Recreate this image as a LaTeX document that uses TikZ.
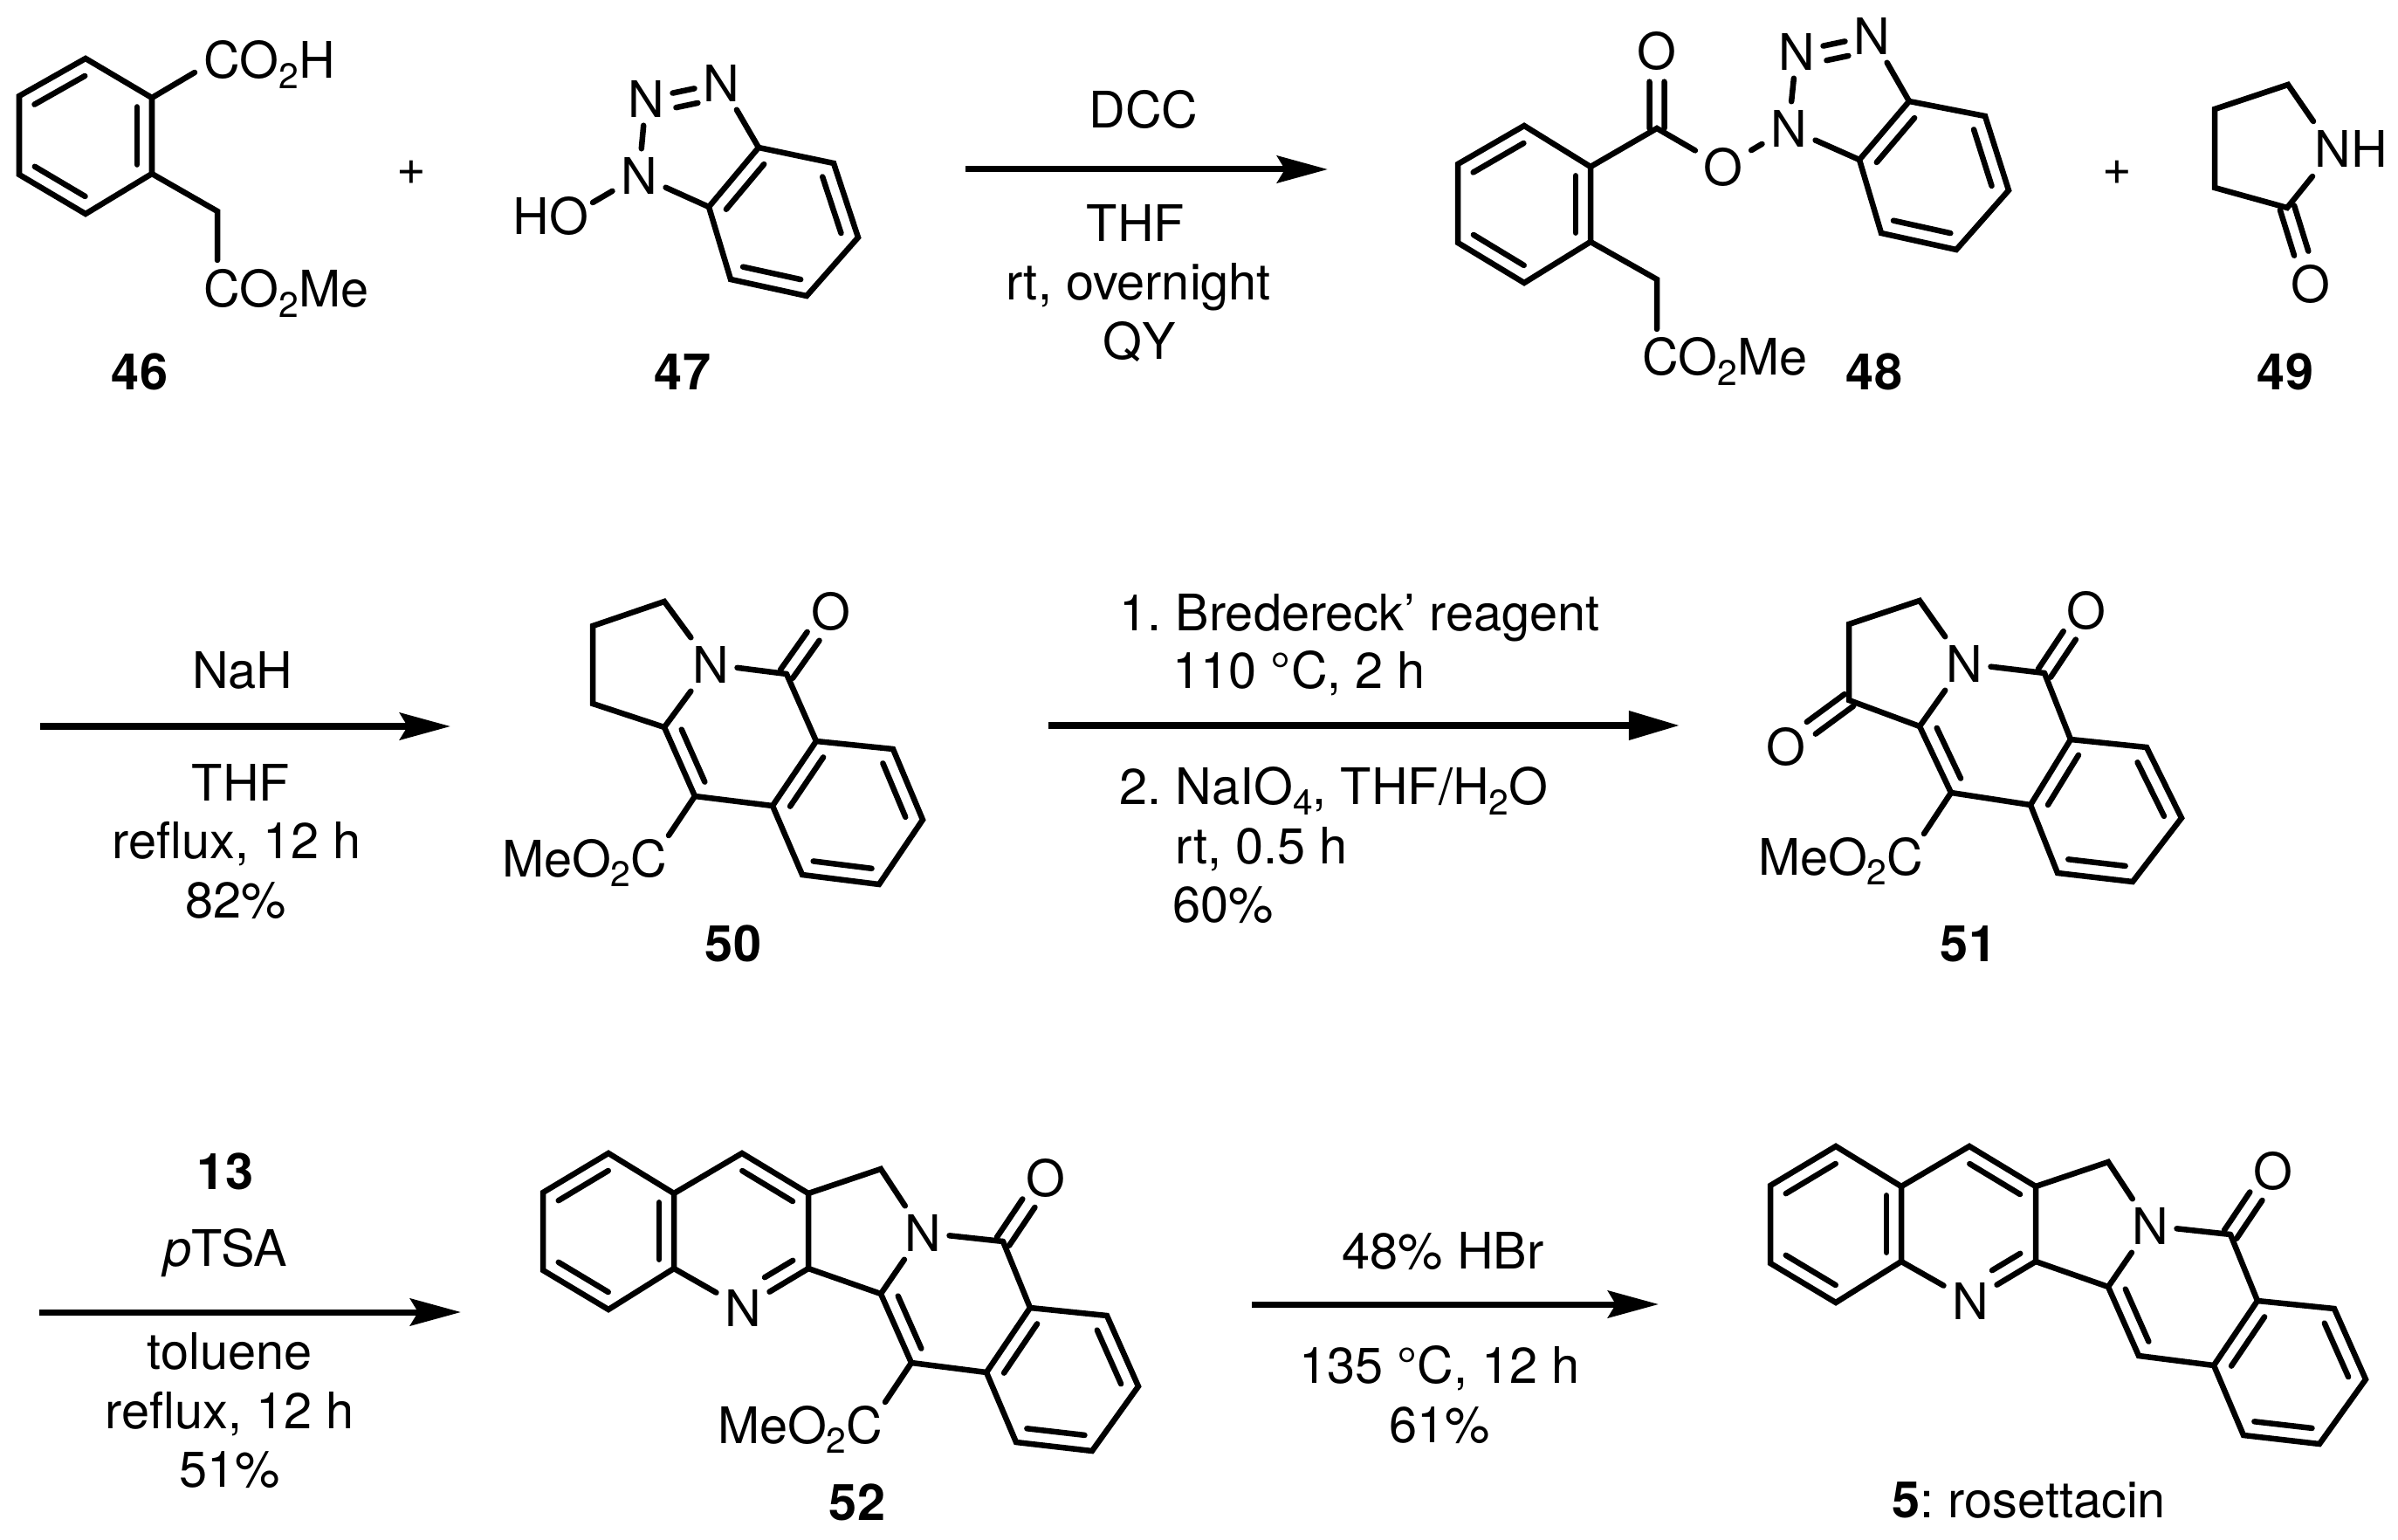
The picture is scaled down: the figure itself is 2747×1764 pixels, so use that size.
\documentclass[tikz,border=0pt]{standalone}
\usepackage{fontspec}
\setmainfont{TeX Gyre Heros}
\usetikzlibrary{calc,arrows.meta}
\newcommand{\chemf}{\frenchspacing\fontsize{16.4}{19}\selectfont}
\newcommand{\subn}[1]{\raisebox{-0.2em}{\fontsize{11.6}{12}\selectfont #1}}
\newcommand{\pts}[1]{\foreach \nam/\pos in {#1} \coordinate (\nam) at (\pos);}
\newcommand{\dbl}[4]{\draw[bond] ($(#1)!#3!(#2)!.17cm!-90:(#2)$) -- ($(#1)!#4!(#2)!.17cm!-90:(#2)$);}
\newcommand{\inbond}[2]{\dbl{#1}{#2}{.12}{.88}}
\newcommand{\cobond}[2]{
   \draw[bond] ($(#1)!0!(#2)!.085cm!90:(#2)$) -- ($(#1)!.6!(#2)!.085cm!90:(#2)$);
   \draw[bond] ($(#1)!0!(#2)!.085cm!-90:(#2)$) -- ($(#1)!.6!(#2)!.085cm!-90:(#2)$);}
\tikzset{
   every node/.style={font=\chemf},
   bond/.style={line width=.065cm,line cap=round},
   atom/.style={inner sep=.09cm},
   lbl/.style={inner sep=0pt,anchor=base},
   lblw/.style={inner sep=0pt,anchor=base west},
   lble/.style={inner sep=0pt,anchor=base east},
   rxn/.style={line width=.07cm,-{Stealth[length=.58cm,width=.31cm,inset=.09cm]}},
   rxnflat/.style={line width=.07cm,-{Stealth[length=.58cm,width=.32cm,inset=0pt]}}
}
% shared tetracycle of 52 and 5
\newcommand{\rosecore}{
   \pts{q1/{697,1321},q2/{772,1367},q3/{772,1453},q4/{697,1500},q5/{622,1455},q6/{622,1366},
        q7/{850,1321},q8/{926,1367},q9/{926,1453},q10/{1009,1339},q11/{1009,1482},q12/{1149,1422},
        q13/{1180,1498},q14/{1268,1507},q15/{1304,1588},q16/{1251,1662},q17/{1164,1652},
        q18/{1130,1572},q19/{1044,1561}}
   \node[atom] (qN) at (851,1498) {N};
   \node[atom] (qNb) at (1057,1412) {N};
   \node[atom] (qO) at (1198,1349) {O};
   \draw[bond] (q1) -- (q2) -- (q3) -- (q4) -- (q5) -- (q6) -- cycle;
   \draw[bond] (q2) -- (q7) -- (q8) -- (q9) -- (q11) -- (q19) -- (q18);
   \draw[bond] (q8) -- (q10) -- (qNb);
   \draw[bond] (q11) -- (qNb);
   \draw[bond] (q3) -- (qN);
   \draw[bond] (q9) -- (qN);
   \draw[bond] (qNb) -- (q12);
   \draw[bond] (q12) -- (q13);
   \draw[bond] (q13) -- (q14) -- (q15) -- (q16) -- (q17) -- (q18) -- cycle;
   \cobond{q12}{qO}
   \inbond{q6}{q1}
   \inbond{q2}{q3}
   \inbond{q4}{q5}
   \inbond{q7}{q8}
   \dbl{q9}{qN}{.12}{.55}
   \inbond{q19}{q11}
   \inbond{q14}{q15}
   \inbond{q16}{q17}
   \inbond{q18}{q13}
}

\begin{document}
\begin{tikzpicture}[x=.01cm,y=-.01cm]
   \useasboundingbox (0,0) rectangle (2747,1764);

   % 46
   \pts{a1/{98,67},a2/{174,112},a3/{174,199},a4/{98,245},a5/{22,200},a6/{22,110},
        a7/{223,83},a8/{249,242},a9/{249,298}}
   \draw[bond] (a1) -- (a2) -- (a3) -- (a4) -- (a5) -- (a6) -- cycle;
   \draw[bond] (a2) -- (a7);
   \draw[bond] (a3) -- (a8) -- (a9);
   \inbond{a2}{a3}
   \inbond{a4}{a5}
   \inbond{a6}{a1}
   \node[lblw] (aAcid) at (233,90) {CO\subn{2}H};
   \node[lblw] (aEster) at (233,352) {CO\subn{2}Me};
   \node[lbl] (aNum) at (160,447) {\textbf{46}};
   \node (plusA) at (471,198) {+};

   % 47
   \pts{b1/{869,169},b2/{955,187},b3/{983,272},b4/{924,339},b5/{837,320},b6/{812,237},b7/{679,232}}
   \node[atom] (bNa) at (740,113) {N};
   \node[atom] (bNb) at (826,95) {N};
   \node[atom] (bNc) at (732,201) {N};
   \node[lbl] (bHO) at (631,269) {HO};
   \draw[bond] (b1) -- (b2) -- (b3) -- (b4) -- (b5) -- (b6) -- cycle;
   \draw[bond] (bNa) -- (bNb);
   \draw[bond] (bNa) -- (bNc);
   \draw[bond] (bNb) -- (b1);
   \draw[bond] (bNc) -- (b6);
   \draw[bond] (bNc) -- (b7);
   \dbl{bNa}{bNb}{.36}{.65}
   \inbond{b2}{b3}
   \inbond{b4}{b5}
   \inbond{b6}{b1}
   \node[lbl] (bNum) at (782,447) {\textbf{47}};

   % step one
   \coordinate (ra) at (1106,194);
   \coordinate (rb) at (1521,194);
   \draw[rxn] (ra) -- (rb);
   \node[lbl] (raDCC) at (1310,147) {DCC};
   \node[lbl] (raTHF) at (1301,277) {THF};
   \node[lbl] (raRt) at (1304,344) {rt, overnight};
   \node[lbl] (raQY) at (1305,412) {QY};

   % 48
   \pts{c1/{1746,144},c2/{1822,191},c3/{1822,277},c4/{1746,324},c5/{1670,278},c6/{1670,188},
        cC/{1898,147},c7/{2187,116},c8/{2274,133},c9/{2301,218},c10/{2241,286},c11/{2155,267},
        c12/{2130,183},c13/{1898,320},c14/{1898,377}}
   \node[atom] (cO) at (1898,58) {O};
   \node[atom] (cOb) at (1974,191) {O};
   \node[atom] (cNa) at (2058,59) {N};
   \node[atom] (cNb) at (2144,41) {N};
   \node[atom] (cNc) at (2049,147) {N};
   \draw[bond] (c1) -- (c2) -- (c3) -- (c4) -- (c5) -- (c6) -- cycle;
   \draw[bond] (c2) -- (cC) -- (cOb);
   \draw[bond] (cOb) -- (cNc);
   \draw[bond] (cNc) -- (cNa);
   \draw[bond] (cNa) -- (cNb);
   \draw[bond] (cNb) -- (c7);
   \draw[bond] (cNc) -- (c12);
   \draw[bond] (c7) -- (c8) -- (c9) -- (c10) -- (c11) -- (c12) -- cycle;
   \draw[bond] (c3) -- (c13) -- (c14);
   \cobond{cC}{cO}
   \dbl{cNa}{cNb}{.36}{.65}
   \inbond{c2}{c3}
   \inbond{c4}{c5}
   \inbond{c6}{c1}
   \inbond{c8}{c9}
   \inbond{c10}{c11}
   \inbond{c12}{c7}
   \node[lblw] (cEster) at (1881,430) {CO\subn{2}Me};
   \node[lbl] (cNum) at (2147,447) {\textbf{48}};
   \node (plusB) at (2425,198) {+};

   % 49
   \pts{d1/{2621,97},d2/{2537,125},d3/{2537,215},d4/{2620,238},d5/{2650,139},d6/{2649,202}}
   \node[atom] (dNH) at (2693,170) {NH};
   \node[atom] (dO) at (2647,325) {O};
   \draw[bond] (d5) -- (d1) -- (d2) -- (d3) -- (d4) -- (d6);
   \cobond{d4}{dO}
   \node[lbl] (dNum) at (2618,447) {\textbf{49}};

   % step two
   \coordinate (rc) at (46,832);
   \coordinate (rd) at (516,832);
   \draw[rxn] (rc) -- (rd);
   \node[lbl] (rcNaH) at (278,789) {NaH};
   \node[lbl] (rcTHF) at (276,917) {THF};
   \node[lbl] (rcRe) at (271,983) {reflux, 12 h};
   \node[lbl] (rcYi) at (270,1051) {82\%};

   % 50
   \pts{e1/{761,689},e2/{679,717},e3/{679,806},e4/{761,833},eC/{901,772},e5/{935,849},e6/{1023,858},
        e7/{1057,939},e8/{1007,1013},e9/{919,1002},e10/{885,923},e11/{796,912},e12/{766,957}}
   \node[atom] (eN) at (814,761) {N};
   \node[atom] (eO) at (952,700) {O};
   \draw[bond] (eN) -- (e1) -- (e2) -- (e3) -- (e4) -- (eN);
   \draw[bond] (eN) -- (eC);
   \draw[bond] (eC) -- (e5);
   \draw[bond] (e5) -- (e6) -- (e7) -- (e8) -- (e9) -- (e10) -- cycle;
   \draw[bond] (e4) -- (e11) -- (e10);
   \draw[bond] (e11) -- (e12);
   \cobond{eC}{eO}
   \inbond{e11}{e4}
   \inbond{e6}{e7}
   \inbond{e8}{e9}
   \inbond{e10}{e5}
   \node[lble] (eEster) at (765,1004) {MeO\subn{2}C};
   \node[lbl] (eNum) at (840,1101) {\textbf{50}};

   % step three
   \coordinate (re) at (1201,831);
   \coordinate (rf) at (1924,831);
   \draw[rxnflat] (re) -- (rf);
   \node[lblw] (reA) at (1282,722) {1. Bredereck’ reagent};
   \node[lblw] (reB) at (1343,788) {110 °C, 2 h};
   \node[lblw] (reC) at (1282,922) {2. NaIO\subn{4}, THF/H\subn{2}O};
   \node[lblw] (reD) at (1346,989) {rt, 0.5 h};
   \node[lblw] (reE) at (1343,1056) {60\%};

   % 51
   \pts{f1/{2199,688},f2/{2118,715},f3/{2118,802},f4/{2199,832},fC/{2342,771},f5/{2372,847},f6/{2459,856},
        f7/{2499,937},f8/{2443,1010},f9/{2357,1000},f10/{2326,922},f11/{2235,908},f12/{2204,955}}
   \node[atom] (fN) at (2250,760) {N};
   \node[atom] (fO) at (2390,699) {O};
   \node[atom] (fOb) at (2046,855) {O};
   \draw[bond] (fN) -- (f1) -- (f2) -- (f3) -- (f4) -- (fN);
   \draw[bond] (fN) -- (fC);
   \draw[bond] (fC) -- (f5);
   \draw[bond] (f5) -- (f6) -- (f7) -- (f8) -- (f9) -- (f10) -- cycle;
   \draw[bond] (f4) -- (f11) -- (f10);
   \draw[bond] (f11) -- (f12);
   \cobond{fC}{fO}
   \cobond{f3}{fOb}
   \inbond{f11}{f4}
   \inbond{f6}{f7}
   \inbond{f8}{f9}
   \inbond{f10}{f5}
   \node[lble] (fEster) at (2204,1002) {MeO\subn{2}C};
   \node[lbl] (fNum) at (2255,1101) {\textbf{51}};

   % step four
   \coordinate (rg) at (45,1503);
   \coordinate (rh) at (528,1503);
   \draw[rxn] (rg) -- (rh);
   \node[lbl] (rgNum) at (258,1362) {\textbf{13}};
   \node[lbl] (rgTs) at (258,1450) {\textit{p}TSA};
   \node[lbl] (rgTol) at (263,1568) {toluene};
   \node[lbl] (rgRe) at (263,1636) {reflux, 12 h};
   \node[lbl] (rgYi) at (263,1703) {51\%};

   % 52
   \begin{scope}[name prefix=g-]
      \rosecore
      \coordinate (qEnd) at (1014,1606);
      \draw[bond] (q19) -- (qEnd);
      \node[lble] (qEster) at (1012,1653) {MeO\subn{2}C};
      \node[lbl] (qNum) at (982,1741) {\textbf{52}};
   \end{scope}

   % step five
   \coordinate (ri) at (1434,1494);
   \coordinate (rj) at (1900,1494);
   \draw[rxn] (ri) -- (rj);
   \node[lbl] (riHBr) at (1653,1453) {48\% HBr};
   \node[lbl] (riT) at (1649,1584) {135 °C, 12 h};
   \node[lbl] (riYi) at (1649,1652) {61\%};

   % 5
   \begin{scope}[shift={(1406,-8)},name prefix=r-]
      \rosecore
   \end{scope}
   \node[lblw] (rNum) at (2167,1738) {\textbf{5}: rosettacin};
\end{tikzpicture}
\end{document}
